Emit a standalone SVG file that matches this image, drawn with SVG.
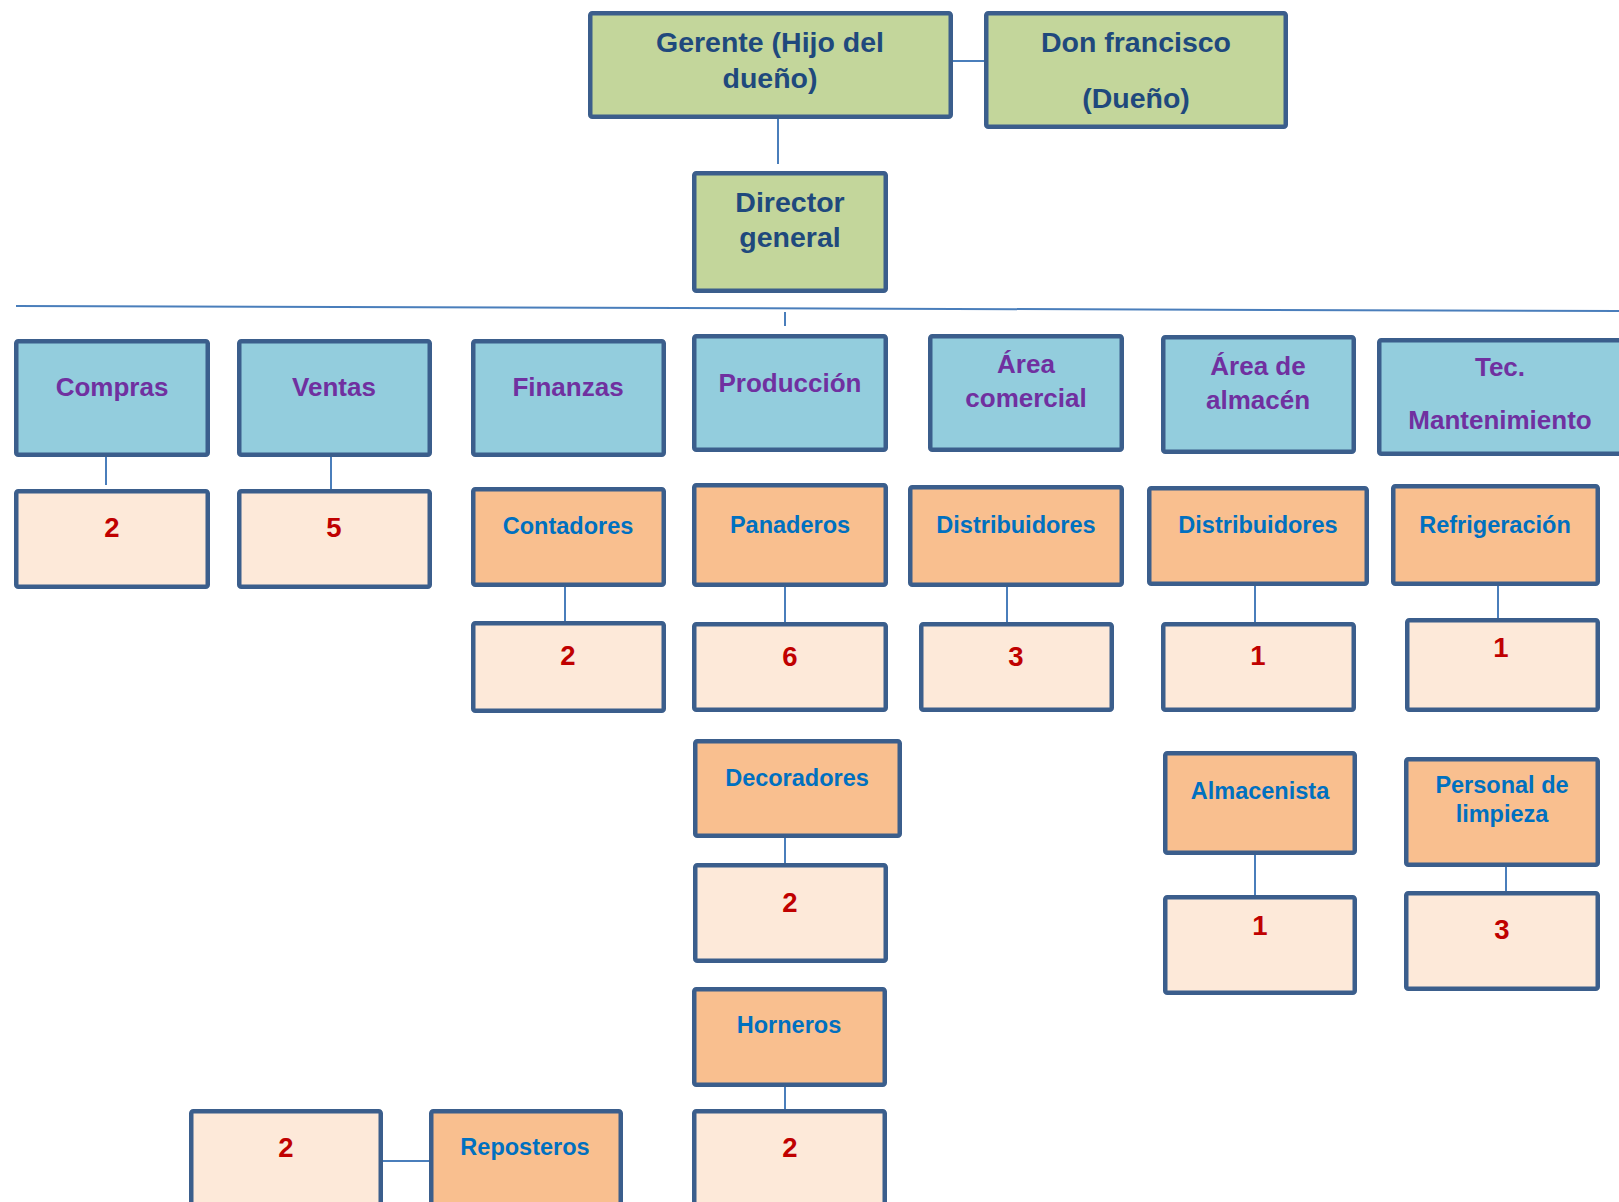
<svg xmlns="http://www.w3.org/2000/svg" width="1619" height="1202" viewBox="0 0 1619 1202">
<style>
  g > rect { stroke: #3B5E8C; stroke-width: 4.5; }
  .g { fill: #C3D69B; }
  .b { fill: #93CDDD; }
  .o { fill: #F9BF8F; }
  .n { fill: #FDE9D9; }
  text { font-family: "Liberation Sans", Arial, sans-serif; font-weight: bold; text-anchor: middle; }
  .tg { fill: #1F497D; font-size: 28.5px; }
  .tb { fill: #7030A0; font-size: 26px; }
  .to { fill: #0070C0; font-size: 23.5px; }
  .tn { fill: #C00000; font-size: 27.5px; }
  .c line { stroke: #4A7EBB; stroke-width: 2; }
</style>
<rect x="0" y="0" width="1619" height="1202" fill="#FFFFFF"/>
<g class="c" id="connectors">
  <line x1="953" y1="61" x2="984" y2="61"/>
  <line x1="778" y1="119" x2="778" y2="164"/>
  <line x1="16" y1="306" x2="1619" y2="311"/>
  <line x1="785" y1="312" x2="785" y2="326"/>
  <line x1="106" y1="457" x2="106" y2="485"/>
  <line x1="331" y1="457" x2="331" y2="489"/>
  <line x1="565" y1="587" x2="565" y2="621"/>
  <line x1="785" y1="587" x2="785" y2="622"/>
  <line x1="1007" y1="587" x2="1007" y2="622"/>
  <line x1="1255" y1="586" x2="1255" y2="622"/>
  <line x1="1498" y1="586" x2="1498" y2="618"/>
  <line x1="785" y1="838" x2="785" y2="863"/>
  <line x1="1255" y1="855" x2="1255" y2="895"/>
  <line x1="1506" y1="867" x2="1506" y2="891"/>
  <line x1="785" y1="1087" x2="785" y2="1109"/>
  <line x1="383" y1="1161" x2="429" y2="1161"/>
</g>
<g id="gerente"><rect class="g" x="590.25" y="13.25" width="360.5" height="103.5" rx="2"/>
  <text class="tg" x="770" y="52">Gerente (Hijo del</text><text class="tg" x="770" y="88">dueño)</text></g>
<g id="don"><rect class="g" x="986.25" y="13.25" width="299.5" height="113.5" rx="2"/>
  <text class="tg" x="1136" y="52">Don francisco</text><text class="tg" x="1136" y="108">(Dueño)</text></g>
<g id="director"><rect class="g" x="694.25" y="173.25" width="191.5" height="117.5" rx="2"/>
  <text class="tg" x="790" y="212">Director</text><text class="tg" x="790" y="247">general</text></g>

<g id="compras"><rect class="b" x="16.25" y="341.25" width="191.5" height="113.5" rx="2"/>
  <text class="tb" x="112" y="396">Compras</text></g>
<g id="ventas"><rect class="b" x="239.25" y="341.25" width="190.5" height="113.5" rx="2"/>
  <text class="tb" x="334" y="396">Ventas</text></g>
<g id="finanzas"><rect class="b" x="473.25" y="341.25" width="190.5" height="113.5" rx="2"/>
  <text class="tb" x="568" y="396">Finanzas</text></g>
<g id="produccion"><rect class="b" x="694.25" y="336.25" width="191.5" height="113.5" rx="2"/>
  <text class="tb" x="790" y="392">Producción</text></g>
<g id="area-comercial"><rect class="b" x="930.25" y="336.25" width="191.5" height="113.5" rx="2"/>
  <text class="tb" x="1026" y="373">Área</text><text class="tb" x="1026" y="407">comercial</text></g>
<g id="area-almacen"><rect class="b" x="1163.25" y="337.25" width="190.5" height="114.5" rx="2"/>
  <text class="tb" x="1258" y="375">Área de</text><text class="tb" x="1258" y="409">almacén</text></g>
<g id="tec"><rect class="b" x="1379.25" y="340.25" width="243.5" height="113.5" rx="2"/>
  <text class="tb" x="1500" y="376">Tec.</text><text class="tb" x="1500" y="429">Mantenimiento</text></g>

<g id="n-compras"><rect class="n" x="16.25" y="491.25" width="191.5" height="95.5" rx="2"/>
  <text class="tn" x="112" y="537">2</text></g>
<g id="n-ventas"><rect class="n" x="239.25" y="491.25" width="190.5" height="95.5" rx="2"/>
  <text class="tn" x="334" y="537">5</text></g>
<g id="contadores"><rect class="o" x="473.25" y="489.25" width="190.5" height="95.5" rx="2"/>
  <text class="to" x="568" y="534">Contadores</text></g>
<g id="panaderos"><rect class="o" x="694.25" y="485.25" width="191.5" height="99.5" rx="2"/>
  <text class="to" x="790" y="533">Panaderos</text></g>
<g id="distribuidores-1"><rect class="o" x="910.25" y="487.25" width="211.5" height="97.5" rx="2"/>
  <text class="to" x="1016" y="533">Distribuidores</text></g>
<g id="distribuidores-2"><rect class="o" x="1149.25" y="488.25" width="217.5" height="95.5" rx="2"/>
  <text class="to" x="1258" y="533">Distribuidores</text></g>
<g id="refrigeracion"><rect class="o" x="1393.25" y="486.25" width="204.5" height="97.5" rx="2"/>
  <text class="to" x="1495" y="533">Refrigeración</text></g>

<g id="n-contadores"><rect class="n" x="473.25" y="623.25" width="190.5" height="87.5" rx="2"/>
  <text class="tn" x="568" y="665">2</text></g>
<g id="n-panaderos"><rect class="n" x="694.25" y="624.25" width="191.5" height="85.5" rx="2"/>
  <text class="tn" x="790" y="666">6</text></g>
<g id="n-distribuidores-1"><rect class="n" x="921.25" y="624.25" width="190.5" height="85.5" rx="2"/>
  <text class="tn" x="1016" y="666">3</text></g>
<g id="n-distribuidores-2"><rect class="n" x="1163.25" y="624.25" width="190.5" height="85.5" rx="2"/>
  <text class="tn" x="1258" y="665">1</text></g>
<g id="n-refrigeracion"><rect class="n" x="1407.25" y="620.25" width="190.5" height="89.5" rx="2"/>
  <text class="tn" x="1501" y="657">1</text></g>

<g id="decoradores"><rect class="o" x="695.25" y="741.25" width="204.5" height="94.5" rx="2"/>
  <text class="to" x="797" y="786">Decoradores</text></g>
<g id="n-decoradores"><rect class="n" x="695.25" y="865.25" width="190.5" height="95.5" rx="2"/>
  <text class="tn" x="790" y="912">2</text></g>
<g id="almacenista"><rect class="o" x="1165.25" y="753.25" width="189.5" height="99.5" rx="2"/>
  <text class="to" x="1260" y="799">Almacenista</text></g>
<g id="n-almacenista"><rect class="n" x="1165.25" y="897.25" width="189.5" height="95.5" rx="2"/>
  <text class="tn" x="1260" y="935">1</text></g>
<g id="personal-limpieza"><rect class="o" x="1406.25" y="759.25" width="191.5" height="105.5" rx="2"/>
  <text class="to" x="1502" y="793">Personal de</text><text class="to" x="1502" y="822">limpieza</text></g>
<g id="n-personal-limpieza"><rect class="n" x="1406.25" y="893.25" width="191.5" height="95.5" rx="2"/>
  <text class="tn" x="1502" y="939">3</text></g>

<g id="horneros"><rect class="o" x="694.25" y="989.25" width="190.5" height="95.5" rx="2"/>
  <text class="to" x="789" y="1033">Horneros</text></g>
<g id="n-horneros"><rect class="n" x="694.25" y="1111.25" width="190.5" height="120" rx="2"/>
  <text class="tn" x="790" y="1157">2</text></g>
<g id="n-reposteros"><rect class="n" x="191.25" y="1111.25" width="189.5" height="120" rx="2"/>
  <text class="tn" x="286" y="1157">2</text></g>
<g id="reposteros"><rect class="o" x="431.25" y="1111.25" width="189.5" height="120" rx="2"/>
  <text class="to" x="525" y="1155">Reposteros</text></g>
</svg>
